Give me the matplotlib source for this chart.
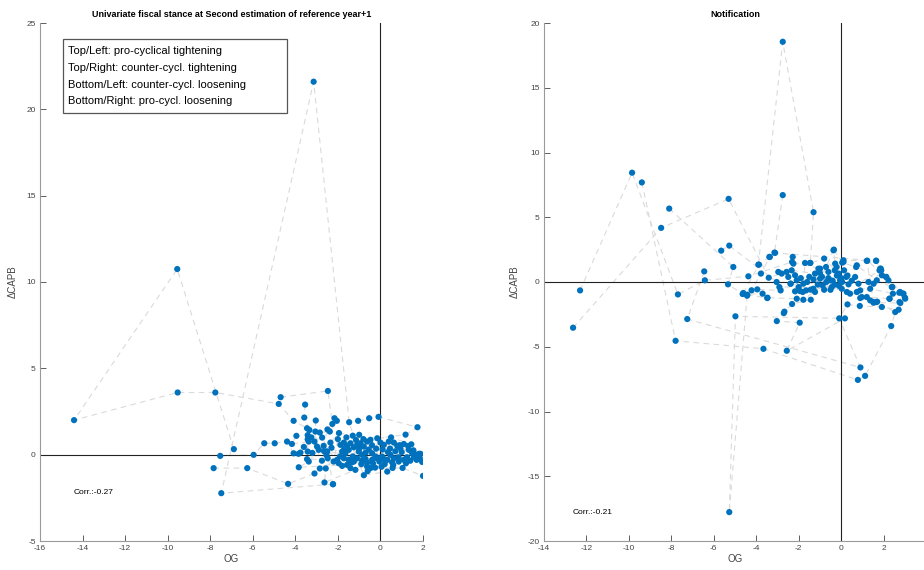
import matplotlib
matplotlib.use('Agg')
import matplotlib.pyplot as plt
from matplotlib.patches import Rectangle

plt.rcParams['font.family'] = ['Liberation Sans', 'DejaVu Sans']
plt.rcParams['axes.unicode_minus'] = False

# --- left panel: second estimation of reference year+1 (OG, delta CAPB) per country track
left_a = [(-6.89, 0.32), (-9.55, 10.75), (-14.4, 2.0), (-9.53, 3.6), (-7.76, 3.6), (-4.78, 2.94),
          (-4.08, 1.96), (-3.45, 1.53), (-2.04, -0.3), (-1.41, 0.66), (-0.78, -1.19), (0.32, -0.98)]
left_b = [(-2.23, -1.71), (-7.48, -2.23), (-3.14, 21.6), (-1.47, 1.88), (-1.02, 0.18), (-0.39, 0.08),
          (0.63, -0.21), (1.49, 0.08)]
left_c = [(-7.84, -0.78), (-6.26, -0.78), (-4.34, -1.69), (-3.1, -1.09), (-2.85, -0.8), (-1.72, -0.21),
          (-0.86, -0.34), (0.08, -0.11), (0.86, -0.4), (1.57, -0.15)]
left_d = [(-7.53, -0.07), (-5.96, -0.01), (-5.46, 0.66), (-4.97, 0.66), (-4.39, 0.76), (-4.08, 0.08),
          (-3.76, 0.12), (-1.88, 0.57), (-1.1, 0.57), (-0.47, 0.86), (0.39, 0.76), (1.33, 0.28)]
left_e = [(-4.69, 3.33), (-2.47, 3.69), (-2.26, 1.78), (-2.49, 1.46), (-2.67, 0.51), (-1.8, 0.18),
          (-1.25, -0.4), (-0.63, -0.46), (0.47, -0.01), (1.25, -0.15), (1.96, -0.42)]
left_f = [(-3.54, 2.9), (-3.58, 2.15), (-3.34, 1.43), (-3.42, 1.13), (-3.42, 0.89), (-3.42, 0.18),
          (-3.45, -0.26), (-1.49, -0.3), (-0.7, 0.12), (0.16, 0.57), (0.94, 0.37), (1.81, 0.05)]
left_g = [(-3.04, 1.98), (-3.06, 1.34), (-3.1, 0.76), (-2.98, 0.47), (-2.9, 0.28), (-3.37, -0.4),
          (-3.84, -0.73), (-1.57, -0.59), (-0.86, -0.01), (0.0, 0.7), (0.79, 0.51), (1.65, -0.01)]
left_h = [(-2.16, 2.11), (-2.05, 1.96), (-2.38, 1.34), (-2.85, 1.28), (-2.74, 0.99), (-2.51, 0.18),
          (-2.54, -0.03), (-2.48, -0.21), (-2.57, -0.8), (-2.63, -1.61), (-1.18, -0.88), (-0.47, -0.78),
          (0.57, -0.77), (1.04, -0.77), (2.0, -1.23)]
left_i = [(-1.05, 1.96), (-0.53, 2.11), (-0.09, 2.19), (1.74, 1.59), (1.18, 1.16), (-1.72, 0.7),
          (-1.57, 0.51), (-0.94, 0.66), (-0.63, 0.76), (-0.23, -0.11), (0.63, 0.7), (1.1, -0.3)]
left_j = [(-3.95, 1.09), (-4.16, 0.62), (-3.37, 0.76), (-1.65, 0.08), (-1.49, 0.28), (-1.25, 0.43),
          (-0.78, 0.47), (-0.39, -0.3), (-0.16, -0.21), (0.32, -0.3), (1.1, 0.62), (1.88, 0.05)]
left_k = [(-1.96, -0.5), (-1.41, -0.78), (-0.63, -0.68), (-1.1, -0.21), (-1.9, -0.1), (-1.7, 0.35),
          (-1.3, -0.1), (-1.0, 0.35), (-0.9, -0.55), (-0.7, -0.25), (-0.55, 0.3), (-0.35, -0.5)]
left_l = [(-0.2, 0.35), (-0.05, -0.4), (0.1, 0.3), (0.2, -0.55), (0.45, 0.35), (0.55, -0.45),
          (0.7, 0.2), (0.85, -0.15), (1.0, 0.15), (1.2, -0.5), (1.4, -0.35), (1.55, 0.25)]
left_m = [(-2.3, 0.4), (-2.2, -0.4), (-2.0, 0.9), (-1.8, -0.65), (-1.6, 1.0), (-1.35, -0.45),
          (-1.15, 0.85), (-0.6, -0.95), (-0.4, 0.55), (-0.25, -0.75), (0.05, -0.7), (0.35, 0.15),
          (0.6, -0.6), (0.9, 0.55), (1.3, 0.5), (1.7, -0.3), (1.85, -0.2)]
left_n = [(-1.0, 1.15), (-0.8, 0.9), (0.15, -0.25), (-2.51, 0.18), (-2.23, -1.71)]
left_o = [(-3.2, 0.1), (-3.6, 0.45), (-2.75, -0.35), (-3.25, 1.0), (-2.65, 0.2), (-3.85, 0.05),
          (-2.35, 0.7), (-1.95, 1.25), (-1.3, 1.1), (-0.15, 0.95), (0.5, 1.0), (1.45, 0.6)]

# --- right panel: notification
right_a = [(-12.3, -0.65), (-9.85, 8.44), (-7.69, -0.96), (-6.42, 0.13), (-4.37, 0.44), (-2.31, 1.55),
           (-0.99, 1.03), (0.11, 1.68), (1.23, 1.65), (2.13, 0.39), (2.94, -0.9)]
right_b = [(-12.63, -3.53), (-8.48, 4.18), (-5.3, 6.42), (-3.41, 0.33), (-2.33, 0.9), (-1.23, 0.65),
           (-0.52, 0.13), (0.42, -0.9), (1.37, -0.52), (2.44, -0.9)]
right_c = [(-3.9, 1.34), (-2.75, 18.55), (-1.3, 5.39), (-1.45, 1.47), (-0.8, 1.81), (-0.11, 0.65),
           (0.82, -0.13), (1.81, 0.9), (2.78, -0.77)]
right_d = [(-9.39, 7.69), (-7.8, -4.54), (-3.66, -5.16), (0.79, -7.56), (1.13, -7.25), (2.36, -3.4),
           (2.55, -2.32), (1.65, -1.55), (0.97, -1.16)]
right_e = [(-6.45, 0.82), (-7.25, -2.86), (0.91, -6.6), (-0.09, -2.81), (0.3, -1.73), (0.88, -1.85),
           (1.92, -1.93), (2.71, -2.14), (3.02, -1.29)]
right_f = [(-4.43, -1.06), (-5.27, -17.77), (-4.98, -2.65), (0.18, -2.81), (-2.56, -5.31), (-1.95, -3.14),
           (-3.03, -3.02), (-2.7, -2.4), (-2.67, -2.29), (-2.31, -1.7), (-1.43, -1.37)]
right_g = [(-8.1, 5.67), (-5.08, 1.16), (-5.33, -0.18), (-4.64, -0.93), (-3.7, -0.9), (-3.47, -1.21),
           (-2.09, -1.29), (-1.78, -1.37), (-0.87, -0.26), (0.27, -0.77), (1.21, -1.16), (2.28, -1.29)]
right_h = [(-2.75, 6.71), (-3.14, 2.27), (-3.36, 1.93), (-3.78, 0.65), (-4.22, -0.64), (-3.95, -0.57),
           (-2.85, -0.65), (-2.38, -0.13), (-1.65, -0.65), (-0.44, -0.39), (0.35, -0.18), (1.29, 0.0),
           (2.12, 0.39)]
right_i = [(-5.65, 2.42), (-5.27, 2.81), (-3.04, 0.0), (-2.91, -0.39), (-2.0, -0.39), (-1.31, -0.52),
           (-0.6, 0.78), (0.24, 0.39), (0.74, 1.29), (1.68, 0.13), (2.39, -0.39)]
right_j = [(-0.34, 2.5), (0.05, 1.5), (0.71, 1.16), (1.65, 1.65), (1.84, 1.03), (1.89, 0.9),
           (2.41, -0.39), (2.74, -0.83), (3.01, -1.21), (2.79, -1.62), (1.53, -1.6), (1.7, -1.52)]
right_k = [(-2.96, 0.78), (-2.8, 0.65), (-2.57, 0.78), (-2.49, 0.39), (-2.25, 1.42), (-2.28, 1.94),
           (-2.17, 0.52), (-2.09, 0.13), (-1.94, -0.7), (-1.78, -0.13), (-1.7, 1.47), (-1.46, 1.47)]
right_l = [(-2.17, -0.72), (-1.81, -0.77), (-1.23, -0.77), (-1.07, 1.03), (-0.99, 0.26), (-0.71, 1.16),
           (-0.36, 2.45), (-0.28, 1.42), (-0.21, 1.16), (-0.05, 0.13), (0.03, -0.52), (0.11, 1.55),
           (0.14, 0.9)]
right_m = [(-2.38, -0.13), (-1.43, -0.59), (-0.6, 0.3), (-0.4, 0.1), (-0.3, -0.2), (-0.2, 0.5),
           (-0.1, -0.3), (0.0, 0.3), (0.05, 0.0), (-0.7, 0.0), (-0.9, 0.4), (-1.1, -0.2), (-1.3, 0.2)]
right_n = [(-1.5, 0.4), (-1.6, 0.0), (-1.9, 0.3), (-0.8, -0.6), (-0.5, -0.6), (-1.0, 0.7), (-0.3, 0.9),
           (0.3, 0.5), (0.5, 0.1), (0.66, 0.39), (0.9, -0.65), (1.53, -0.13), (1.87, 1.03), (1.92, 0.52),
           (2.23, 0.13), (2.91, -0.9), (2.75, -1.55), (2.28, -1.29)]
right_o = [(0.74, -0.77), (0.9, -1.24), (1.37, -1.42), (1.53, -1.55), (1.21, 1.63), (1.65, 1.63),
           (-3.11, 2.25), (-3.38, 1.94), (-3.87, 1.34), (-4.61, -0.85), (-4.42, -0.98), (-3.48, -1.24)]

left_tracks = [left_a, left_b, left_c, left_d, left_e, left_f, left_g, left_h, left_i, left_j,
               left_k, left_l, left_m, left_n, left_o]
right_tracks = [right_a, right_b, right_c, right_d, right_e, right_f, right_g, right_h, right_i,
                right_j, right_k, right_l, right_m, right_n, right_o]

legend_lines = ['Top/Left: pro-cyclical tightening',
                'Top/Right: counter-cycl. tightening',
                'Bottom/Left: counter-cycl. loosening',
                'Bottom/Right: pro-cycl. loosening']

panels = [
    dict(tracks=left_tracks, title='Univariate fiscal stance at Second estimation of reference year+1',
         xlim=(-16, 2), ylim=(-5, 25), xticks=range(-16, 3, 2), yticks=range(-5, 26, 5),
         corr='Corr.:-0.27', corr_pos=(-14.4, -2.2), pos=[40/924, 29/570, 383/924, 518/570]),
    dict(tracks=right_tracks, title='Notification',
         xlim=(-14, 4), ylim=(-20, 20), xticks=range(-14, 5, 2), yticks=range(-20, 21, 5),
         corr='Corr.:-0.21', corr_pos=(-12.65, -17.8), pos=[544/924, 29/570, 382/924, 518/570]),
]

fig = plt.figure(figsize=(9.24, 5.70), dpi=100)

for i, p in enumerate(panels):
    ax = fig.add_axes(p['pos'])
    for tr in p['tracks']:
        xs = [t[0] for t in tr]
        ys = [t[1] for t in tr]
        ax.plot(xs, ys, linestyle=(0, (5, 4)), color='#dadada', lw=0.8, zorder=1)
    for tr in p['tracks']:
        ax.scatter([t[0] for t in tr], [t[1] for t in tr], s=20, color='#0072BD',
                   edgecolors='none', zorder=3)
    ax.axhline(0, color='#222222', lw=0.8, zorder=2)
    ax.axvline(0, color='#222222', lw=0.8, zorder=2)

    ax.set_xlim(*p['xlim'])
    ax.set_ylim(*p['ylim'])
    ax.set_xticks(list(p['xticks']))
    ax.set_yticks(list(p['yticks']))
    ax.tick_params(direction='in', length=4, width=0.6, labelsize=6, colors='#444444', pad=3)
    for side in ['top', 'right']:
        ax.spines[side].set_visible(False)
    for side in ['left', 'bottom']:
        ax.spines[side].set_color('#9a9a9a')
        ax.spines[side].set_linewidth(0.8)
    ax.set_title(p['title'], fontsize=6.5, fontweight='bold', pad=4)
    ax.set_xlabel('OG', fontsize=7, color='#444444', labelpad=1)
    ax.set_ylabel('ΔCAPB', fontsize=7, color='#444444', labelpad=6)
    ax.text(p['corr_pos'][0], p['corr_pos'][1], p['corr'], fontsize=6, va='center', ha='left')

    if i == 0:
        ax.add_patch(Rectangle((0.059, 0.826), 0.585, 0.144, transform=ax.transAxes,
                               fill=True, facecolor='white', edgecolor='#555555', lw=0.9, zorder=4))
        for k, line in enumerate(legend_lines):
            ax.text(0.073, [0.9465, 0.9137, 0.8809, 0.8488][k], line, transform=ax.transAxes,
                    fontsize=8, va='center', ha='left', zorder=5)

fig.savefig('out.png', dpi=100)
